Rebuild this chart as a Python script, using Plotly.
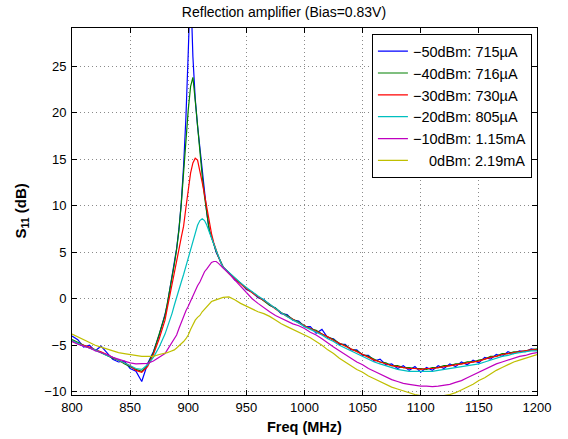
import plotly.graph_objects as go

freq = [800, 805, 810, 815, 820, 825, 830, 835, 840, 845, 850, 855, 860, 865, 870, 875,
        880, 882, 884, 886, 888, 890, 892, 894, 896, 898, 900, 902, 904, 906, 908, 910,
        912, 914, 916, 918, 920, 922, 924, 926, 928, 930,
        935, 940, 945, 950, 955, 960, 965, 970, 975, 980, 985, 990, 995, 1000, 1005, 1010,
        1015, 1020, 1025, 1030, 1035, 1040, 1045, 1050, 1055, 1060, 1065, 1070, 1075, 1080,
        1085, 1090, 1095, 1100, 1105, 1110, 1115, 1120, 1125, 1130, 1135, 1140, 1145, 1150,
        1155, 1160, 1165, 1170, 1175, 1180, 1185, 1190, 1195, 1200]

s11_m50 = [-4.0, -4.4, -5.2, -5.0, -5.6, -5.1, -5.8, -6.5, -6.8, -6.7, -7.5, -7.8, -8.9, -7.0, -5.7, -3.9,
           -1.7, -0.6, 0.9, 2.3, 3.6, 5.4, 7.5, 10.3, 14.3, 19.5, 26.5, 34.0, 26.0, 21.5, 18.6, 16.2,
           14.0, 11.8, 9.2, 7.4, 6.5, 5.9, 5.0, 4.4, 3.8, 3.4,
           2.8, 2.0, 1.7, 1.0, 0.7, 0.1, -0.1, -0.7, -1.0, -1.6,
           -1.7, -2.3, -2.4, -3.0, -3.0, -3.7, -3.3, -4.2, -4.3, -4.9,
           -4.9, -5.5, -5.5, -6.1, -6.1, -6.7, -6.5, -7.1, -7.0, -7.5,
           -7.2, -7.7, -7.3, -7.9, -7.4, -7.7, -7.2, -7.5, -7.0, -7.3,
           -6.8, -7.1, -6.6, -6.9, -6.3, -6.5, -6.0, -6.2, -5.7, -5.9,
           -5.6, -5.7, -5.4, -5.5]

s11_m40 = [-4.4, -4.7, -5.0, -5.3, -5.5, -5.8, -6.1, -6.4, -6.6, -7.0, -7.3, -7.6, -7.8, -7.1, -5.8, -3.9,
           -1.8, -0.5, 0.8, 2.2, 3.7, 5.3, 7.4, 10.2, 13.6, 17.4, 20.3, 22.8, 23.8, 21.3, 18.3, 15.6,
           13.2, 11.0, 8.9, 7.4, 6.6, 5.8, 5.1, 4.5, 3.9, 3.4,
           2.8, 2.2, 1.6, 1.1, 0.7, 0.2, -0.2, -0.7, -1.0, -1.5,
           -1.8, -2.2, -2.5, -2.9, -3.2, -3.4, -3.8, -4.1, -4.4, -4.8,
           -5.0, -5.4, -5.6, -6.0, -6.2, -6.5, -6.8, -6.9, -7.2, -7.2,
           -7.4, -7.4, -7.5, -7.5, -7.6, -7.4, -7.4, -7.2, -7.2, -7.0,
           -7.0, -6.8, -6.8, -6.6, -6.5, -6.2, -6.2, -5.9, -5.9, -5.7,
           -5.7, -5.6, -5.5, -5.4]

s11_m30 = [-4.5, -4.8, -5.0, -5.2, -5.5, -5.7, -6.0, -6.3, -6.6, -6.9, -7.2, -7.7, -7.9, -7.3, -6.0, -4.3,
           -2.3, -1.0, 0.2, 1.5, 2.8, 4.0, 5.3, 6.6, 7.8, 9.8, 12.0, 13.5, 14.6, 15.1, 14.9, 13.8,
           12.5, 11.2, 9.8, 8.3, 7.0, 6.0, 5.2, 4.5, 3.9, 3.4,
           2.7, 2.1, 1.6, 1.1, 0.6, 0.2, -0.2, -0.6, -1.1, -1.5,
           -1.9, -2.2, -2.6, -2.9, -3.2, -3.5, -3.8, -4.1, -4.5, -4.8,
           -5.1, -5.4, -5.7, -6.0, -6.3, -6.6, -6.8, -7.0, -7.2, -7.3,
           -7.4, -7.5, -7.5, -7.6, -7.5, -7.5, -7.4, -7.3, -7.2, -7.1,
           -7.0, -6.9, -6.8, -6.7, -6.5, -6.3, -6.2, -6.0, -5.9, -5.8,
           -5.7, -5.6, -5.5, -5.5]

s11_m20 = [-4.5, -4.8, -5.1, -5.3, -5.5, -5.8, -6.1, -6.3, -6.6, -6.9, -7.2, -7.5, -7.6, -7.1, -6.3, -5.2,
           -3.8, -3.1, -2.4, -1.6, -0.7, 0.2, 0.9, 1.8, 2.6, 3.5, 4.4, 5.2, 6.2, 7.1, 7.9, 8.4,
           8.6, 8.4, 7.9, 7.2, 6.5, 5.8, 5.1, 4.5, 3.9, 3.4,
           2.8, 2.2, 1.7, 1.2, 0.7, 0.3, -0.1, -0.6, -1.0, -1.5,
           -1.9, -2.3, -2.6, -3.0, -3.3, -3.6, -3.9, -4.3, -4.6, -5.0,
           -5.3, -5.6, -5.9, -6.2, -6.5, -6.8, -7.0, -7.2, -7.4, -7.6,
           -7.7, -7.8, -7.8, -7.8, -7.8, -7.8, -7.7, -7.6, -7.5, -7.4,
           -7.3, -7.2, -7.1, -7.0, -6.8, -6.6, -6.4, -6.2, -6.1, -5.9,
           -5.8, -5.7, -5.6, -5.6]

s11_m10 = [-4.6, -4.9, -5.1, -5.3, -5.6, -5.8, -6.0, -6.3, -6.5, -6.7, -6.9, -7.0, -7.0, -6.95, -6.7, -6.3,
           -5.9, -5.5, -5.1, -4.7, -4.3, -3.9, -3.2, -2.5, -1.9, -1.3, -0.8, -0.2, 0.4, 1.0, 1.4, 1.8,
           2.4, 2.9, 3.2, 3.6, 3.9, 4.0, 4.0, 3.8, 3.6, 3.3,
           2.7, 2.0, 1.3, 0.6, 0.0, -0.5, -1.0, -1.4, -1.8, -2.1,
           -2.4, -2.7, -2.9, -3.2, -3.6, -3.9, -4.3, -4.8, -5.2, -5.6,
           -6.0, -6.4, -6.8, -7.1, -7.5, -7.8, -8.1, -8.4, -8.7, -8.9,
           -9.1, -9.2, -9.3, -9.4, -9.4, -9.45, -9.4, -9.3, -9.2, -9.0,
           -8.8, -8.5, -8.2, -7.9, -7.6, -7.3, -7.0, -6.8, -6.6, -6.4,
           -6.2, -6.1, -5.9, -5.8]

s11_0 = [-3.8, -4.1, -4.4, -4.7, -5.0, -5.2, -5.4, -5.6, -5.8, -5.9, -6.0, -6.1, -6.2, -6.2, -6.2, -6.0,
         -5.9, -5.8, -5.7, -5.6, -5.5, -5.3, -5.1, -4.9, -4.6, -4.3, -3.9, -3.3, -2.8, -2.3, -2.0, -1.8,
         -1.4, -1.1, -0.8, -0.5, -0.3, -0.2, -0.1, 0.0, 0.1, 0.15,
         0.2, -0.1, -0.5, -0.8, -1.1, -1.4, -1.6, -1.9, -2.3, -2.7,
         -3.0, -3.3, -3.6, -3.9, -4.2, -4.6, -5.0, -5.5, -5.9, -6.4,
         -6.8, -7.2, -7.6, -7.9, -8.3, -8.6, -8.9, -9.2, -9.5, -9.7,
         -9.9, -10.1, -10.3, -10.4, -10.5, -10.5, -10.5, -10.4, -10.3, -10.1,
         -9.8, -9.5, -9.2, -8.8, -8.5, -8.1, -7.7, -7.4, -7.1, -6.8,
         -6.6, -6.4, -6.2, -6.0]

labels = ["\u221250dBm: 715\u00b5A", "\u221240dBm: 716\u00b5A", "\u221230dBm: 730\u00b5A",
          "\u221220dBm: 805\u00b5A", "\u221210dBm: 1.15mA", "\u2007\u20070dBm: 2.19mA"]
series = [s11_m50, s11_m40, s11_m30, s11_m20, s11_m10, s11_0]
colors = ["#0000ff", "#008000", "#ff0000", "#00bfbf", "#bf00bf", "#bfbf00"]

x_ticks = [800, 850, 900, 950, 1000, 1050, 1100, 1150, 1200]
y_ticks = [-10, -5, 0, 5, 10, 15, 20, 25]

FONT = "Liberation Sans, Arial, Helvetica, sans-serif"

fig = go.Figure()
for lab, ys, col in zip(labels, series, colors):
    fig.add_trace(go.Scatter(x=freq, y=ys, mode="lines", name=lab,
                             line=dict(color=col, width=1.2)))

axis_common = dict(showline=True, linecolor="black", linewidth=1, mirror="ticks",
                   ticks="inside", ticklen=5, tickcolor="black", showgrid=True,
                   gridcolor="#8a8a8a", griddash="1px,3px", gridwidth=1, zeroline=False,
                   automargin=False,
                   tickfont=dict(family=FONT, size=13, color="black"))

fig.update_layout(
    width=568, height=439,
    margin=dict(l=72, r=31, t=28, b=44, autoexpand=False),
    paper_bgcolor="white", plot_bgcolor="white",
    font=dict(family=FONT, color="black"),
    title=dict(text="Reflection amplifier (Bias=0.83V)", x=0.5, xanchor="center",
               y=1 - 12 / 439, yanchor="middle", yref="container",
               font=dict(family=FONT, size=14, color="black")),
    xaxis=dict(range=[800, 1200], tickvals=x_ticks, **axis_common),
    yaxis=dict(range=[-10.35, 29.1], tickvals=y_ticks, ticklabelstandoff=2, **axis_common),
    legend=dict(x=0.645, y=0.983, xanchor="left", yanchor="top",
                bgcolor="white", bordercolor="black", borderwidth=1,
                font=dict(family=FONT, size=14.5, color="black"),
                tracegroupgap=0, itemwidth=30),
    showlegend=True,
    annotations=[
        dict(text="<b>Freq (MHz)</b>", xref="paper", yref="paper",
             x=0.5, y=(395 - 426.5) / 367, xanchor="center", yanchor="middle",
             showarrow=False, font=dict(family=FONT, size=14.5, color="black")),
        dict(text="<b>S<sub>11</sub> (dB)</b>", xref="paper", yref="paper",
             x=(21 - 72) / 465, y=0.5, xanchor="center", yanchor="middle", textangle=-90,
             showarrow=False, font=dict(family=FONT, size=15, color="black")),
    ],
)

fig.write_html("out.html", config={"displayModeBar": False},
               post_script="document.body.style.margin='0';document.body.style.overflow='hidden';")
